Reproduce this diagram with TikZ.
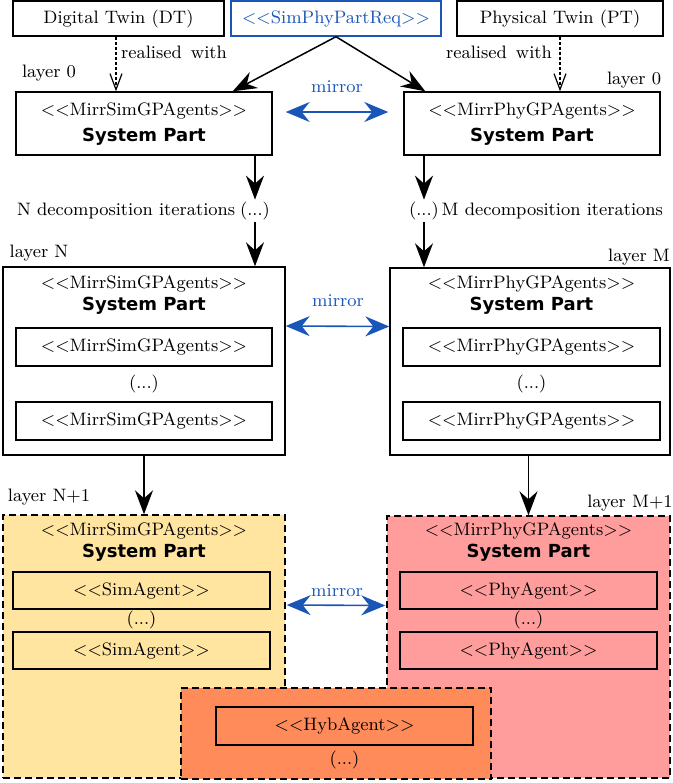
\documentclass[tikz,border=0pt]{standalone}
\usepackage{fontspec}
\newfontfamily\sysfont{DejaVu Sans}
\usepackage{tikz}
\usetikzlibrary{arrows.meta}
\definecolor{simfill}{HTML}{FFE5A0}
\definecolor{phyfill}{HTML}{FF9C9C}
\definecolor{hybfill}{HTML}{FF8A5A}
\definecolor{mirrblue}{HTML}{1A56B8}
\def\st#1{<{}<#1>{}>}
\def\sysp{\\[-1pt]{\sysfont\bfseries System Part}}
\def\darr{\draw[arr]}
\def\dmirr{\draw[mirr]}

\begin{document}
\begin{tikzpicture}[x=0.5pt,y=-0.5pt,font=\fontsize{9}{12}\selectfont,
    box/.style 2 args={draw,line width=0.7pt,align=center,inner sep=0pt,
        minimum width=#1*0.5pt,minimum height=#2*0.5pt},
    group/.style={line width=0.7pt,dash pattern=on 3.5pt off 2pt},
    arr/.style={line width=0.75pt,-{Stealth[length=12pt,width=9pt,inset=4pt]}},
    real/.style={line width=0.6pt,dash pattern=on 1.5pt off 1pt,
        -{Straight Barb[length=8pt,width=6pt]}},
    mirr/.style={mirrblue,line width=0.8pt,{Stealth[length=12pt,width=10pt,inset=4pt]}-{Stealth[length=12pt,width=10pt,inset=4pt]}},
    mlabel/.style={text=mirrblue}]
\useasboundingbox (0,0) rectangle (673,783);

\node[box={211}{35}] (dt) at (118.5,18.5) {Digital Twin (DT)};
\node[box={210}{35},draw=mirrblue,text=mirrblue] (req) at (336,18.5) {\st{SimPhyPartReq}};
\node[box={206}{35}] (pt) at (560,18.5) {Physical Twin (PT)};

\node[box={256}{63}] (simtop) at (144,123.5) {\st{MirrSimGPAgents}\\[1pt]{\sysfont\bfseries System Part}};
\node[box={256}{63}] (phytop) at (532,123.5) {\st{MirrPhyGPAgents}\\[1pt]{\sysfont\bfseries System Part}};

\node (lay0s) at (49,73) {layer 0};
\node (lay0p) at (634,80) {layer 0};
\node (realsim) at (174,52) {realised\hskip0.5em with};
\node (realphy) at (499,52) {realised\hskip0.5em with};

\draw[real] (dt.south -| 116,0) -- (simtop.north -| 116,0);
\draw[real] (pt.south) -- (pt.south |- phytop.north);
\darr (req.south) -- ([xshift=-20pt]simtop.north east);
\darr (req.south) -- ([xshift=11pt]phytop.north west);
\node[mlabel] (mir0) at (337,87) {mirror};
\dmirr ([xshift=6.5pt,yshift=5.75pt]simtop.east) -- ([xshift=-7.5pt,yshift=5.75pt]phytop.west);

\node[inner sep=1pt] (ndots) at (255,211) {(...)};
\node[anchor=east,inner sep=1pt] (niter) at (ndots.west) {N decomposition iterations};
\node[inner sep=1pt] (mdots) at (424,211) {(...)};
\node[anchor=west,inner sep=0pt] (miter) at (mdots.east) {M decomposition iterations};

\node[box={282}{188}] (layN) at (144,361) {};
\node[box={280}{187}] (layM) at (530,361.5) {};
\node (layNl) at (39,253) {layer N};
\node (layMl) at (639,257) {layer M};
\darr (simtop.south -| ndots) -- (ndots);
\darr (ndots) -- (ndots |- layN.north);
\darr (phytop.south -| mdots) -- (mdots);
\darr (mdots) -- (mdots |- layM.north);

\node[align=center] (layNhd) at (144,295) {\st{MirrSimGPAgents}\sysp};
\node[box={256}{38}] (layNa) at (144,347) {\st{MirrSimGPAgents}};
\node (layNd) at (144,384) {(...)};
\node[box={256}{38}] (layNb) at (144,421) {\st{MirrSimGPAgents}};
\node[align=center] (layMhd) at (531.5,295) {\st{MirrPhyGPAgents}\sysp};
\node[box={257}{38}] (layMa) at (531.5,347) {\st{MirrPhyGPAgents}};
\node (layMd) at (531.5,384) {(...)};
\node[box={257}{38}] (layMb) at (531.5,421) {\st{MirrPhyGPAgents}};
\node[mlabel] (mir1) at (338,301) {mirror};
\dmirr ([yshift=17.5pt]layN.east) -- ([yshift=17.5pt]layM.west);

\node[box={282}{263},group,fill=simfill] (sim) at (144,646.5) {};
\node[box={283}{262},group,fill=phyfill] (phy) at (528.5,647) {};
\node (simlay) at (49,497) {layer N+1};
\node (phylay) at (630,503) {layer M+1};
\darr (layN.south) -- (sim.north);
\darr (layM.south -| phy.north) -- (phy.north);

\node[align=center] (simhd) at (144,542) {\st{MirrSimGPAgents}\sysp};
\node[box={257}{37}] (simA) at (141.5,590.5) {\st{SimAgent}};
\node (simd) at (141.5,620) {(...)};
\node[box={257}{37}] (simB) at (141.5,650.5) {\st{SimAgent}};
\node[align=center] (phyhd) at (528.5,542) {\st{MirrPhyGPAgents}\sysp};
\node[box={257}{37}] (phyA) at (528.5,590.5) {\st{PhyAgent}};
\node (phyd) at (528.5,620) {(...)};
\node[box={257}{37}] (phyB) at (528.5,650.5) {\st{PhyAgent}};
\node[mlabel] (mir2) at (337,591) {mirror};
\dmirr ([xshift=0.5pt,yshift=20.75pt]sim.east) -- ([xshift=-0.5pt,yshift=20.75pt]phy.west);

\node[box={310}{91},group,fill=hybfill] (hyb) at (336,733.5) {};
\node[box={257}{38}] (hybA) at (344.5,726) {\st{HybAgent}};
\node (hybd) at (344.5,760) {(...)};
\end{tikzpicture}
\end{document}
